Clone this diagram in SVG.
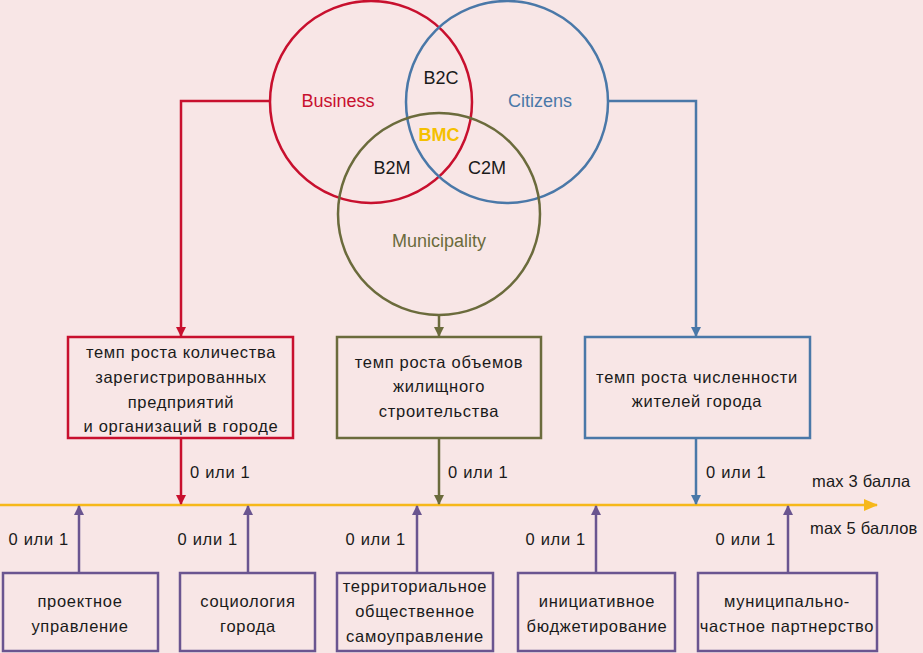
<svg xmlns="http://www.w3.org/2000/svg" width="923" height="653" viewBox="0 0 923 653">
<style>
text{font-family:"Liberation Sans",Arial,sans-serif;font-size:16.5px;letter-spacing:0.7px;fill:#1a1a1a;text-anchor:middle}
.big{font-size:18px;letter-spacing:0}
.lbl{text-anchor:start}
.lblr{text-anchor:end}
.max{letter-spacing:0.2px}
.c{fill:none;stroke-width:2.5}
.box{fill:none;stroke-width:2.5}
.red{stroke:#c8102e}.blue{stroke:#4a78a8}.olive{stroke:#6b6b3c}.purple{stroke:#6a5590}
.ln{fill:none;stroke-width:2.5}
</style>
<defs>
<marker id="aRed" markerWidth="10" markerHeight="10" refX="9" refY="5" orient="auto" markerUnits="userSpaceOnUse"><path d="M0,0 L10,5 L0,10 z" fill="#c8102e"/></marker>
<marker id="aBlue" markerWidth="10" markerHeight="10" refX="9" refY="5" orient="auto" markerUnits="userSpaceOnUse"><path d="M0,0 L10,5 L0,10 z" fill="#4a78a8"/></marker>
<marker id="aOlive" markerWidth="10" markerHeight="10" refX="9" refY="5" orient="auto" markerUnits="userSpaceOnUse"><path d="M0,0 L10,5 L0,10 z" fill="#6b6b3c"/></marker>
<marker id="aPurple" markerWidth="10" markerHeight="10" refX="9" refY="5" orient="auto" markerUnits="userSpaceOnUse"><path d="M0,0 L10,5 L0,10 z" fill="#6a5590"/></marker>
<marker id="aYellow" markerWidth="14" markerHeight="12" refX="13" refY="6" orient="auto" markerUnits="userSpaceOnUse"><path d="M0,0 L14,6 L0,12 z" fill="#f6b81a"/></marker>
</defs>
<rect x="0" y="0" width="923" height="653" fill="#f8e6e6"/>

<g id="venn">
<circle class="c red" cx="371" cy="102" r="101"/>
<circle class="c blue" cx="507" cy="102" r="101"/>
<circle class="c olive" cx="439" cy="214" r="101"/>
<text class="big" x="338" y="107" style="fill:#c8102e">Business</text>
<text class="big" x="540" y="107" style="fill:#4a78a8">Citizens</text>
<text class="big" x="439" y="247" style="fill:#6b6b3c">Municipality</text>
<text class="big" x="441" y="84">B2C</text>
<text class="big" x="439" y="141" style="fill:#f5c000;font-weight:bold">BMC</text>
<text class="big" x="392" y="174">B2M</text>
<text class="big" x="487" y="174">C2M</text>
</g>

<g id="box-business">
<rect class="box red" x="68" y="337" width="225" height="101"/>
<text x="181" y="358">темп роста количества</text>
<text x="181" y="383">зарегистрированных</text>
<text x="181" y="408">предприятий</text>
<text x="181" y="432">и организаций в городе</text>
</g>
<g id="box-municipality">
<rect class="box olive" x="337" y="337" width="204" height="101"/>
<text x="439" y="368">темп роста объемов</text>
<text x="439" y="392">жилищного</text>
<text x="439" y="417">строительства</text>
</g>
<g id="box-citizens">
<rect class="box blue" x="585" y="337" width="225" height="101"/>
<text x="697" y="383">темп роста численности</text>
<text x="697" y="407">жителей города</text>
</g>

<g id="box-p1"><rect class="box purple" x="3" y="573" width="155" height="78"/><text x="80" y="607">проектное</text><text x="80" y="632">управление</text></g>
<g id="box-p2"><rect class="box purple" x="180" y="573" width="135" height="78"/><text x="248" y="607">социология</text><text x="248" y="632">города</text></g>
<g id="box-p3"><rect class="box purple" x="337" y="573" width="156" height="78"/><text x="415" y="592">территориальное</text><text x="415" y="617">общественное</text><text x="415" y="642">самоуправление</text></g>
<g id="box-p4"><rect class="box purple" x="518" y="573" width="157" height="78"/><text x="597" y="607">инициативное</text><text x="597" y="632">бюджетирование</text></g>
<g id="box-p5"><rect class="box purple" x="698" y="573" width="179" height="78"/><text x="787" y="607">муниципально-</text><text x="787" y="632">частное партнерство</text></g>

<g id="connectors">
<line class="ln" x1="0" y1="505" x2="877" y2="505" stroke="#f6b81a" marker-end="url(#aYellow)"/>
<polyline class="ln red" points="270,101 181,101 181,336" marker-end="url(#aRed)"/>
<polyline class="ln blue" points="608,101 696,101 696,336" marker-end="url(#aBlue)"/>
<line class="ln olive" x1="439" y1="315" x2="439" y2="336" marker-end="url(#aOlive)"/>
<line class="ln red" x1="181" y1="438" x2="181" y2="504" marker-end="url(#aRed)"/>
<line class="ln olive" x1="439" y1="438" x2="439" y2="504" marker-end="url(#aOlive)"/>
<line class="ln blue" x1="696" y1="438" x2="696" y2="504" marker-end="url(#aBlue)"/>
<line class="ln purple" x1="79" y1="573" x2="79" y2="506" marker-end="url(#aPurple)"/>
<line class="ln purple" x1="248" y1="573" x2="248" y2="506" marker-end="url(#aPurple)"/>
<line class="ln purple" x1="417" y1="573" x2="417" y2="506" marker-end="url(#aPurple)"/>
<line class="ln purple" x1="596" y1="573" x2="596" y2="506" marker-end="url(#aPurple)"/>
<line class="ln purple" x1="788" y1="573" x2="788" y2="506" marker-end="url(#aPurple)"/>
</g>

<g id="labels">
<text class="lbl" x="190" y="478">0 или 1</text>
<text class="lbl" x="448" y="478">0 или 1</text>
<text class="lbl" x="706" y="478">0 или 1</text>
<text class="lblr" x="69" y="545">0 или 1</text>
<text class="lblr" x="238" y="545">0 или 1</text>
<text class="lblr" x="406" y="545">0 или 1</text>
<text class="lblr" x="586" y="545">0 или 1</text>
<text class="lblr" x="776" y="545">0 или 1</text>
<text class="lbl max" x="812" y="487">max 3 балла</text>
<text class="lbl max" x="810" y="534">max 5 баллов</text>
</g>
</svg>
